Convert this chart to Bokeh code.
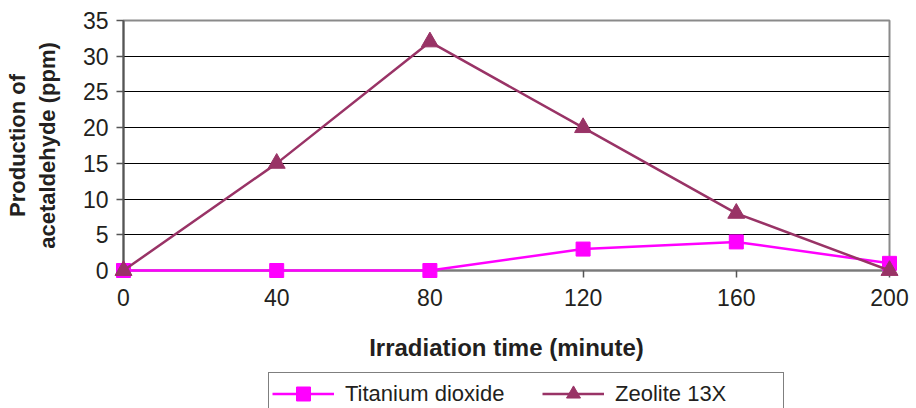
from bokeh.plotting import figure
from bokeh.layouts import column
from bokeh.models import Range1d, Legend, LegendItem, FixedTicker
from bokeh.embed import file_html
from bokeh.resources import INLINE

# Irradiation time (minute)
time_min = [0, 40, 80, 120, 160, 200]
# Acetaldehyde produced (ppm)
titanium_dioxide = [0, 0, 0, 3, 4, 1]
zeolite_13x = [0, 15, 32, 20, 8, 0]

x_ticks = [0, 40, 80, 120, 160, 200]
y_ticks = [0, 5, 10, 15, 20, 25, 30, 35]

series_names = ["Titanium dioxide", "Zeolite 13X"]

FONT = "Liberation Sans"
TEXT = "#231f20"
TIO2 = "#ff00ff"
ZEO = "#993366"

p = figure(
    width=916, height=372,
    frame_width=766, frame_height=250,
    min_border_left=123, min_border_right=27,
    min_border_top=20, min_border_bottom=102,
    x_range=Range1d(0, 200), y_range=Range1d(0, 35),
    output_backend="svg", toolbar_location=None,
)
p.background_fill_color = "white"
p.border_fill_color = "white"
p.outline_line_color = "#8a8a8a"
p.outline_line_width = 2

p.xgrid.visible = False
p.ygrid.ticker = FixedTicker(ticks=y_ticks)
p.ygrid.grid_line_color = "black"
p.ygrid.grid_line_width = 1

p.xaxis.ticker = FixedTicker(ticks=x_ticks)
p.yaxis.ticker = FixedTicker(ticks=y_ticks)

for ax in (p.xaxis[0], p.yaxis[0]):
    ax.axis_line_color = "#555555"
    ax.axis_line_width = 2
    ax.major_tick_line_color = "#555555"
    ax.major_tick_line_width = 1.5
    ax.major_tick_out = 7
    ax.major_tick_in = 0
    ax.minor_tick_line_color = None
    ax.major_label_text_font = FONT
    ax.major_label_text_font_size = "23px"
    ax.major_label_text_color = TEXT
    ax.axis_label_text_font = FONT
    ax.axis_label_text_font_style = "bold"
    ax.axis_label_text_color = TEXT

p.xaxis.axis_label = "Irradiation time (minute)"
p.xaxis.axis_label_text_font_size = "24px"
p.xaxis.major_label_standoff = 11
p.xaxis.axis_label_standoff = 25
p.xaxis.axis_line_color = "#7a7a7a"

p.yaxis.axis_label = "Production of\nacetaldehyde (ppm)"
p.yaxis.axis_label_text_font_size = "22px"
p.yaxis.major_label_standoff = 8
p.yaxis.axis_label_standoff = 20

p.line(time_min, titanium_dioxide, line_color=TIO2, line_width=2.5, level="overlay")
p.scatter(time_min, titanium_dioxide, marker="square", size=14,
          fill_color=TIO2, line_color=TIO2, level="overlay")
p.line(time_min, zeolite_13x, line_color=ZEO, line_width=2.5, level="overlay")
p.scatter(time_min, zeolite_13x, marker="triangle", size=17,
          fill_color=ZEO, line_color=ZEO, level="overlay")

# Legend strip under the chart. Its key renderers carry the same series but
# sit outside this strip's x range, so only their legend swatches show.
lg = figure(
    width=916, height=36,
    frame_width=766, frame_height=36,
    min_border_left=123, min_border_right=27, min_border_top=0, min_border_bottom=0,
    x_axis_type=None, y_axis_type=None,
    x_range=Range1d(-20, -10), y_range=Range1d(0, 35),
    output_backend="svg", toolbar_location=None,
)
lg.outline_line_color = None
lg.xgrid.visible = False
lg.ygrid.visible = False
lg.background_fill_color = "white"
lg.border_fill_color = "white"

k1l = lg.line(time_min, titanium_dioxide, line_color=TIO2, line_width=2.5)
k1s = lg.scatter(time_min, titanium_dioxide, marker="square", size=14,
                 fill_color=TIO2, line_color=TIO2)
k2l = lg.line(time_min, zeolite_13x, line_color=ZEO, line_width=2.5)
k2s = lg.scatter(time_min, zeolite_13x, marker="triangle", size=17,
                 fill_color=ZEO, line_color=ZEO)

legend = Legend(
    items=[
        LegendItem(label=series_names[0], renderers=[k1l, k1s]),
        LegendItem(label=series_names[1], renderers=[k2l, k2s]),
    ],
    orientation="horizontal",
    location=(145, -7),
    label_text_font=FONT,
    label_text_font_size="22px",
    label_text_color=TEXT,
    label_width=165,
    glyph_width=62,
    glyph_height=35,
    label_standoff=11,
    spacing=32,
    padding=3,
    margin=0,
    border_line_color="black",
    border_line_width=1,
    background_fill_color="white",
    background_fill_alpha=1,
)
lg.add_layout(legend, "center")

layout = column(p, lg, spacing=0)

open("out.html", "w").write(file_html(layout, INLINE))
